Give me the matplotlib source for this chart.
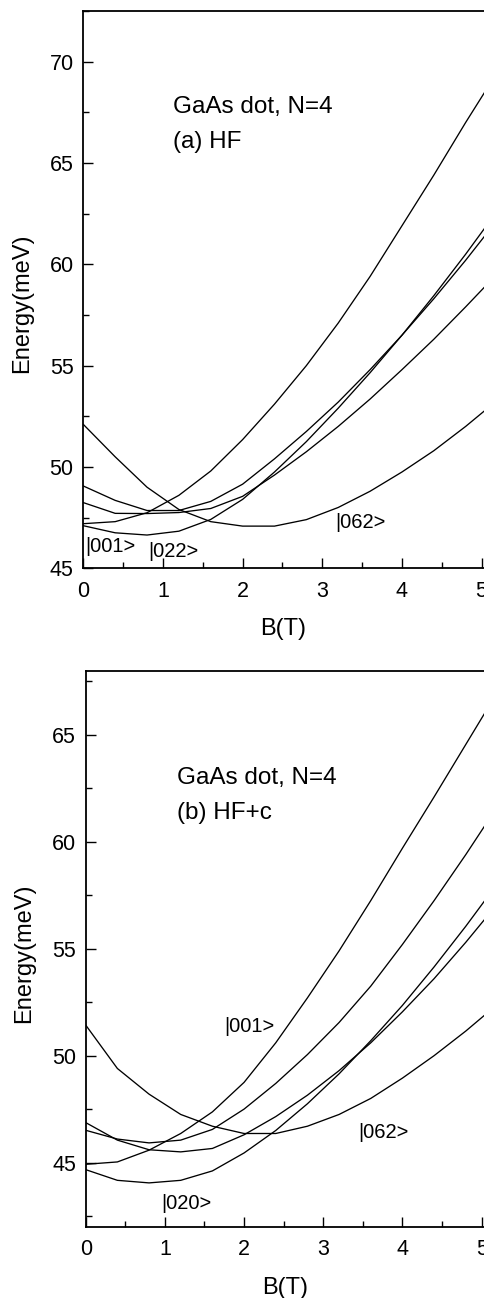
import matplotlib
matplotlib.use('Agg')
import matplotlib.pyplot as plt
from matplotlib.ticker import MultipleLocator

plt.rcParams['font.family'] = ['Liberation Sans', 'DejaVu Sans']

B = [0.0, 0.4, 0.8, 1.2, 1.6, 2.0, 2.4, 2.8, 3.2, 3.6, 4.0, 4.4, 4.8, 5.2]

# (a) HF
a_001 = [47.2, 47.3, 47.74, 48.6, 49.8, 51.35, 53.1, 55.0, 57.1, 59.4, 61.9, 64.4, 67.0, 69.5]
a_062 = [52.1, 50.5, 49.0, 47.9, 47.3, 47.08, 47.08, 47.4, 48.0, 48.8, 49.75, 50.8, 52.0, 53.3]
a_022 = [47.1, 46.75, 46.64, 46.83, 47.41, 48.4, 49.75, 51.25, 52.9, 54.65, 56.5, 58.45, 60.5, 62.65]
a_c = [49.06, 48.35, 47.85, 47.85, 48.3, 49.15, 50.4, 51.75, 53.2, 54.8, 56.5, 58.3, 60.2, 62.2]
a_d = [48.24, 47.71, 47.7, 47.75, 47.95, 48.55, 49.6, 50.75, 52.0, 53.35, 54.8, 56.3, 57.9, 59.55]

# (b) HF+c
b_001 = [44.92, 45.03, 45.58, 46.36, 47.37, 48.75, 50.6, 52.7, 54.9, 57.25, 59.7, 62.1, 64.55, 67.0]
b_062 = [51.43, 49.4, 48.2, 47.25, 46.7, 46.36, 46.36, 46.7, 47.25, 48.0, 48.95, 50.0, 51.15, 52.4]
b_020 = [44.67, 44.17, 44.05, 44.17, 44.61, 45.45, 46.5, 47.75, 49.15, 50.7, 52.35, 54.15, 56.05, 58.05]
b_c = [46.87, 46.05, 45.6, 45.5, 45.66, 46.3, 47.15, 48.15, 49.3, 50.6, 52.05, 53.6, 55.3, 57.1]
b_d = [46.51, 46.1, 45.92, 46.05, 46.55, 47.5, 48.7, 50.05, 51.55, 53.25, 55.2, 57.25, 59.4, 61.65]

fig = plt.figure(figsize=(4.85, 12.98), dpi=100)
ax1 = fig.add_axes([0.1718, 0.5622, 0.854, 0.4293])
ax2 = fig.add_axes([0.1767, 0.0549, 0.849, 0.4284])


def style(ax, ymin, ymax):
    ax.set_xlim(0, 5.2)
    ax.set_ylim(ymin, ymax)
    ax.xaxis.set_major_locator(MultipleLocator(1))
    ax.xaxis.set_minor_locator(MultipleLocator(0.5))
    ax.yaxis.set_major_locator(MultipleLocator(5))
    ax.yaxis.set_minor_locator(MultipleLocator(2.5))
    ax.tick_params(which='both', direction='in', labelsize=15.5, width=1.0)
    ax.tick_params(which='major', length=7)
    ax.tick_params(which='minor', length=4)
    ax.tick_params(axis='x', pad=9)
    ax.tick_params(axis='y', pad=7)
    for s in ax.spines.values():
        s.set_linewidth(1.3)
    ax.set_xlabel('B(T)', fontsize=17)
    ax.set_ylabel('Energy(meV)', fontsize=17)


lw = 0.95
for y in [a_001, a_062, a_022, a_c, a_d]:
    ax1.plot(B, y, color='black', lw=lw)
style(ax1, 45, 72.5)
ax1.xaxis.set_label_coords(0.482, -0.09)
ax1.yaxis.set_label_coords(-0.121, 0.476)
ax1.text(0.2165, 0.828, 'GaAs dot, N=4', transform=ax1.transAxes, fontsize=17.5, va='center')
ax1.text(0.2165, 0.765, '(a) HF', transform=ax1.transAxes, fontsize=17.5, va='center')
ax1.text(0.03, 46.05, '|001>', fontsize=14.5, va='center')
ax1.text(0.81, 45.85, '|022>', fontsize=14.5, va='center')
ax1.text(3.16, 47.26, '|062>', fontsize=14.5, va='center')

for y in [b_001, b_062, b_020, b_c, b_d]:
    ax2.plot(B, y, color='black', lw=lw)
style(ax2, 42, 68)
ax2.xaxis.set_label_coords(0.484, -0.09)
ax2.yaxis.set_label_coords(-0.123, 0.492)
ax2.text(0.2217, 0.807, 'GaAs dot, N=4', transform=ax2.transAxes, fontsize=17.5, va='center')
ax2.text(0.2217, 0.744, '(b) HF+c', transform=ax2.transAxes, fontsize=17.5, va='center')
ax2.text(1.75, 51.34, '|001>', fontsize=14.5, va='center')
ax2.text(3.44, 46.42, '|062>', fontsize=14.5, va='center')
ax2.text(0.96, 43.09, '|020>', fontsize=14.5, va='center')

fig.savefig('out.png', dpi=100)
